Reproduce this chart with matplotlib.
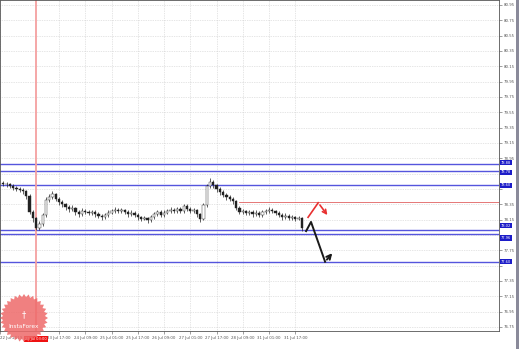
import numpy as np
import matplotlib.pyplot as plt
from matplotlib.patches import Polygon, Rectangle

# 2-hour candles, bar index 0 = first time label
bars = list(range(-1, 91))
closes = [78.61, 78.61, 78.59, 78.56, 78.55, 78.54, 78.52, 78.46, 78.25, 78.17,
          78.04, 78.09, 78.21, 78.41, 78.44, 78.48, 78.42, 78.38, 78.35, 78.31,
          78.29, 78.30, 78.25, 78.22, 78.26, 78.25, 78.24, 78.25, 78.22, 78.20,
          78.18, 78.21, 78.24, 78.26, 78.27, 78.26, 78.27, 78.25, 78.22, 78.24,
          78.21, 78.18, 78.16, 78.17, 78.14, 78.18, 78.22, 78.25, 78.21, 78.24,
          78.26, 78.27, 78.26, 78.29, 78.26, 78.33, 78.29, 78.26, 78.27, 78.22,
          78.16, 78.34, 78.59, 78.64, 78.60, 78.55, 78.51, 78.47, 78.44, 78.42,
          78.39, 78.30, 78.25, 78.26, 78.24, 78.25, 78.22, 78.24, 78.21, 78.25,
          78.26, 78.27, 78.26, 78.24, 78.21, 78.18, 78.20, 78.17, 78.18, 78.16,
          78.17, 78.04]
highs = [78.65, 78.64, 78.63, 78.61, 78.59, 78.58, 78.56, 78.54, 78.48, 78.28,
         78.19, 78.13, 78.24, 78.44, 78.48, 78.52, 78.50, 78.44, 78.40, 78.37,
         78.34, 78.34, 78.32, 78.28, 78.30, 78.29, 78.28, 78.28, 78.27, 78.25,
         78.22, 78.24, 78.27, 78.29, 78.31, 78.30, 78.30, 78.29, 78.27, 78.27,
         78.26, 78.23, 78.20, 78.20, 78.19, 78.21, 78.25, 78.28, 78.27, 78.27,
         78.29, 78.31, 78.30, 78.32, 78.31, 78.36, 78.35, 78.31, 78.30, 78.29,
         78.24, 78.37, 78.62, 78.69, 78.67, 78.62, 78.57, 78.53, 78.50, 78.47,
         78.44, 78.41, 78.33, 78.29, 78.28, 78.28, 78.27, 78.27, 78.26, 78.28,
         78.29, 78.31, 78.30, 78.28, 78.26, 78.23, 78.23, 78.22, 78.21, 78.20,
         78.20, 78.19]
lows = [78.59, 78.58, 78.56, 78.53, 78.52, 78.51, 78.48, 78.42, 78.22, 78.12,
        78.01, 78.01, 78.07, 78.19, 78.38, 78.42, 78.39, 78.34, 78.31, 78.27,
        78.25, 78.26, 78.21, 78.19, 78.20, 78.22, 78.21, 78.21, 78.19, 78.17,
        78.15, 78.16, 78.19, 78.22, 78.24, 78.23, 78.23, 78.22, 78.19, 78.20,
        78.18, 78.15, 78.13, 78.14, 78.10, 78.12, 78.16, 78.20, 78.18, 78.19,
        78.22, 78.24, 78.23, 78.24, 78.23, 78.24, 78.26, 78.23, 78.23, 78.19,
        78.12, 78.14, 78.32, 78.56, 78.56, 78.51, 78.47, 78.44, 78.41, 78.39,
        78.35, 78.27, 78.22, 78.22, 78.21, 78.21, 78.19, 78.20, 78.18, 78.19,
        78.22, 78.24, 78.23, 78.21, 78.18, 78.15, 78.16, 78.14, 78.15, 78.13,
        78.14, 78.00]
opens = [78.63] + closes[:-1]

price_ticks = [80.95, 80.75, 80.55, 80.35, 80.15, 79.95, 79.75, 79.55, 79.35, 79.15,
               78.95, 78.75, 78.55, 78.35, 78.15, 77.95, 77.75, 77.55, 77.35, 77.15,
               76.95, 76.75]
levels = [78.88, 78.78, 78.60, 78.02, 77.96, 77.60]
label_nudge = [0.01, -0.01, 0, 0.05, -0.05, 0]  # keep stacked price tags readable
price_line = 78.38

time_bars = [-2, 16, 24, 32, 40, 48, 56, 64, 72, 80, 88]
time_labels = ["22 Jul 2019", "23 Jul 17:00", "24 Jul 09:00",
               "25 Jul 01:00", "25 Jul 17:00", "26 Jul 09:00", "27 Jul 01:00",
               "27 Jul 17:00", "28 Jul 09:00", "31 Jul 01:00", "31 Jul 17:00"]
cursor_bar = 9
cursor_label = "23 Jul 03:00"

# forecast arrows
black_x = [91.3, 92.8, 97.1, 99.8]
black_y = [78.00, 78.12, 77.60, 77.74]
red_x = [91.9, 95.0, 98.3]
red_y = [78.18, 78.37, 78.18]

W, H = 519, 349
fig = plt.figure(figsize=(W / 100, H / 100), dpi=100)
fig.patch.set_facecolor('white')
ax = fig.add_axes([0, 18 / H, 499 / W, 331 / H])
ax.set_xlim(-2, 150.1)
ax.set_ylim(76.697, 81.015)

# tick labels hidden behind the level tags are left blank
ax.set_yticks(price_ticks)
ax.set_yticklabels(["" if min(abs(v - lv) for lv in levels) < 0.06 else f"{v:.2f}"
                    for v in price_ticks])
ax.yaxis.tick_right()
ax.set_xticks(time_bars)
ax.set_xticklabels(time_labels)
ax.tick_params(axis='both', labelsize=2.8, colors='#555555', length=2, width=0.4, pad=1.5)
ax.get_xticklabels()[0].set_horizontalalignment('left')
ax.grid(True, color='#cccccc', linestyle=(0, (1, 1.5)), linewidth=0.5)
ax.set_axisbelow(True)
for s in ax.spines.values():
    s.set_color('#555555')
    s.set_linewidth(0.6)

for lv, dy in zip(levels, label_nudge):
    ax.axhline(lv, color='#5555dd', lw=1.0, zorder=2)
    ax.text(1.004, lv + dy, f"{lv:.2f}", transform=ax.get_yaxis_transform(), fontsize=2.6,
            color='white', va='center', ha='left', zorder=5,
            bbox=dict(boxstyle='square,pad=0.15', fc='#1c1cc8', ec='none'))
ax.plot([71, 150.1], [price_line, price_line], color='#e06060', lw=0.6, zorder=2)
ax.axvline(cursor_bar, color='#f4a0a0', lw=1.3, zorder=2)

# candles
for b, o, h, l, c in zip(bars, opens, highs, lows, closes):
    ax.vlines(b, l, h, color='#222222', lw=0.5, zorder=3)
    face = 'white' if c >= o else '#222222'
    ax.bar(b, max(abs(c - o), 0.006), bottom=min(o, c), width=0.7, color=face,
           edgecolor='#222222', linewidth=0.3, zorder=4)

# arrows
ax.plot(black_x[:-1], black_y[:-1], color='#1a1a1a', lw=1.4, zorder=6)
ax.annotate('', xy=(black_x[-1], black_y[-1]), xytext=(black_x[-2], black_y[-2]),
            arrowprops=dict(arrowstyle='->', color='#1a1a1a', lw=1.4,
                            mutation_scale=8), zorder=6)
ax.plot(red_x[:-1], red_y[:-1], color='#e83030', lw=1.2, zorder=6)
ax.annotate('', xy=(red_x[-1], red_y[-1]), xytext=(red_x[-2], red_y[-2]),
            arrowprops=dict(arrowstyle='->', color='#e83030', lw=1.2,
                            mutation_scale=7), zorder=6)

# cursor time label
ax.text(cursor_bar, -0.018, cursor_label, transform=ax.get_xaxis_transform(),
        fontsize=2.6, color='white', ha='center', va='top', zorder=7,
        bbox=dict(boxstyle='square,pad=0.25', fc='#ee1111', ec='none'), clip_on=False)

# logo
lax = fig.add_axes([0, 0, 60 / W, 60 / H])
lax.set_xlim(0, 60)
lax.set_ylim(0, 60)
lax.axis('off')
ang = np.linspace(0, 2 * np.pi, 65)
rad = np.where(np.arange(65) % 2 == 0, 24, 21)
lax.add_patch(Polygon(np.c_[24 + rad * np.cos(ang), 31 + rad * np.sin(ang)],
                      closed=True, fc='#ee6a6a', ec='none', alpha=0.85))
lax.text(24, 22, "InstaForex", color='white', fontsize=4.2, ha='center', va='center')
lax.text(24, 34, "\u2020", color='white', fontsize=6, ha='center', va='center')

fig.add_artist(Rectangle((516 / W, 0), 3 / W, 1, transform=fig.transFigure,
                         fc='#8a8a9a', ec='none'))

fig.savefig("out.png", dpi=100)
